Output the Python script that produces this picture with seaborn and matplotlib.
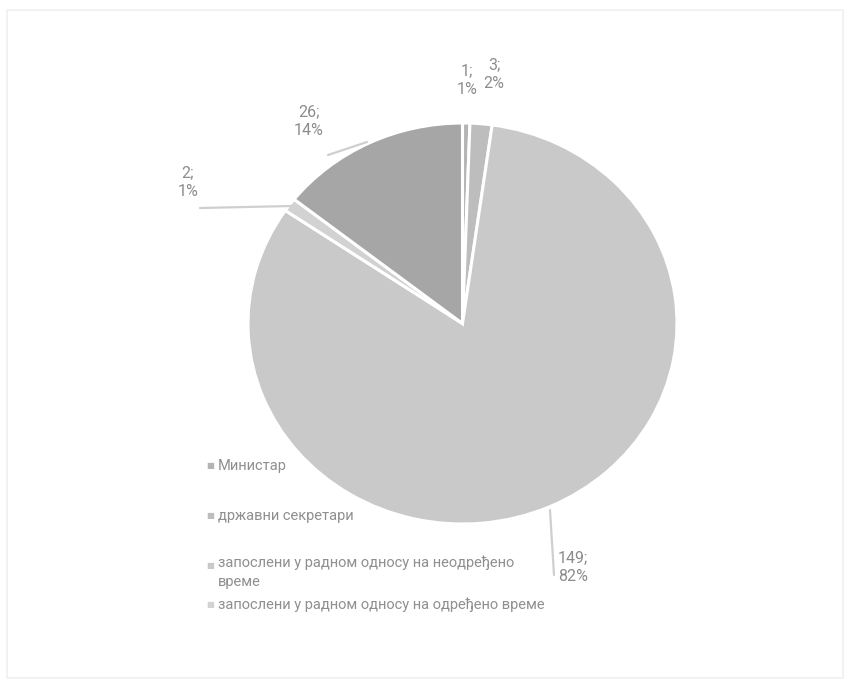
import matplotlib
matplotlib.use("Agg")
import matplotlib.pyplot as plt
import seaborn as sns
from matplotlib.patches import Rectangle

sns.set_theme(style="white")
plt.rcParams['font.family'] = ['Roboto', 'Noto Sans', 'DejaVu Sans']

# ---- data ----
values = [1, 3, 149, 2, 26]
value_labels = ["1;\n1%", "3;\n2%", "149;\n82%", "2;\n1%", "26;\n14%"]
legend_labels = [
    "Министар",
    "државни секретари",
    "запослени у радном односу на неодређено\nвреме",
    "запослени у радном односу на одређено време",
]
colors = ["#b4b4b4", "#bdbdbd", "#c9c9c9", "#d2d2d2", "#a6a6a6"]

W, H = 850, 683
fig = plt.figure(figsize=(W / 100, H / 100), dpi=100)

# pie bounds in pixels
L, R, T, B = 248, 677, 123, 524
cx, cy = (L + R) / 2, (T + B) / 2
rx, ry = (R - L) / 2, (B - T) / 2
ax = fig.add_axes([L / W, 1 - B / H, (R - L) / W, (B - T) / H])

wedges, _ = ax.pie(values, colors=colors, startangle=90, counterclock=False,
                   wedgeprops=dict(edgecolor="white", linewidth=2.2))
ax.set_aspect("auto")
ax.set_xlim(-1, 1)
ax.set_ylim(-1, 1)
ax.axis("off")


def d(px, py):
    return ((px - cx) / rx, (cy - py) / ry)


label_pos = [(467, 80), (494, 74), (573, 567), (188, 182), (309, 121)]
txt_col = "#8c8c8c"
for lab, (px, py) in zip(value_labels, label_pos):
    x, y = d(px, py)
    ax.text(x, y, lab, ha="center", va="center", fontsize=11.5, color=txt_col,
            clip_on=False, linespacing=1.3)

# leader lines
line_col = "#cfcfcf"
for (p1, p2) in [((292, 206), (200, 208)), ((328, 155), (367, 142)), ((550, 510), (554, 575))]:
    x1, y1 = d(*p1)
    x2, y2 = d(*p2)
    ax.plot([x1, x2], [y1, y2], color=line_col, lw=1.6, clip_on=False)

# legend (manual layout to follow reference)
leg_y = [466, 516, 566, 605]
leg_col = "#8f8f8f"
for lab, c, py in zip(legend_labels, colors[:4], leg_y):
    fig.text(210 / W, 1 - py / H, "■", color=c, fontsize=6, va="center", ha="center")
    if "\n" in lab:
        fig.text(218 / W, 1 - (py - 10) / H, lab, color=leg_col, fontsize=10.5,
                 va="top", linespacing=1.45)
    else:
        fig.text(218 / W, 1 - py / H, lab, color=leg_col, fontsize=10.5, va="center")

# faint frame
fig.patches.append(Rectangle((7 / W, 1 - 678 / H), 836 / W, 668 / H, transform=fig.transFigure,
                             fill=False, edgecolor="#f0f0f0", lw=1.2))

fig.savefig("out.png", dpi=100, facecolor="white")
